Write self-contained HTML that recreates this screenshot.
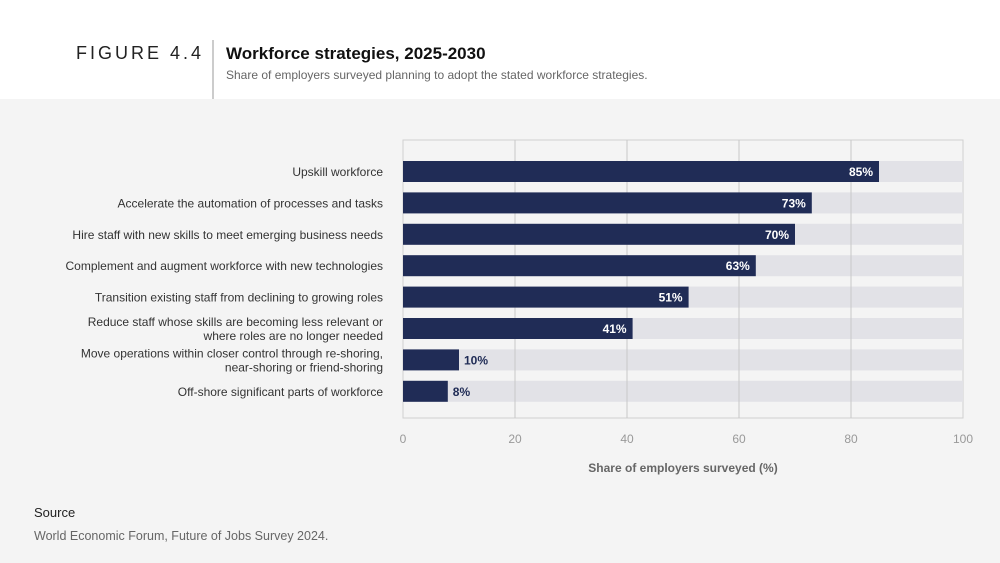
<!DOCTYPE html>
<html><head><meta charset="utf-8"><style>
body{margin:0;width:1000px;height:558px;overflow:hidden;background:#f4f4f4;font-family:"Liberation Sans",sans-serif}
</style></head><body>
<svg width="1000" height="558" xmlns="http://www.w3.org/2000/svg" font-family="Liberation Sans, sans-serif">
<rect x="0" y="0" width="1000" height="99" fill="#ffffff"/>
<text x="76" y="59" font-size="18" letter-spacing="3" fill="#222">FIGURE 4.4</text>
<line x1="213" y1="40" x2="213" y2="99" stroke="#999" stroke-width="1"/>
<text x="226" y="59" font-size="17" font-weight="bold" fill="#111">Workforce strategies, 2025-2030</text>
<text x="226" y="79" font-size="12" fill="#666">Share of employers surveyed planning to adopt the stated workforce strategies.</text>
<g id="chart"></g>
<text x="683" y="472" font-size="12" font-weight="bold" fill="#666" text-anchor="middle">Share of employers surveyed (%)</text>
<text x="34" y="517" font-size="13" fill="#222">Source</text>
<text x="34" y="540" font-size="12.5" fill="#666">World Economic Forum, Future of Jobs Survey 2024.</text>
</svg>
<script>
const categories=[["Upskill workforce"],["Accelerate the automation of processes and tasks"],["Hire staff with new skills to meet emerging business needs"],["Complement and augment workforce with new technologies"],["Transition existing staff from declining to growing roles"],["Reduce staff whose skills are becoming less relevant or","where roles are no longer needed"],["Move operations within closer control through re-shoring,","near-shoring or friend-shoring"],["Off-shore significant parts of workforce"]];
const values=[85,73,70,63,51,41,10,8];
const ticks=[0,20,40,60,80,100];
const NS="http://www.w3.org/2000/svg";
const g=document.getElementById('chart');
const x0=403,x1=963,yTop=140,yBot=418,rowStart=161,rowStep=31.4,bh=21;
const xs=v=>x0+(x1-x0)*v/100;
const rowY=i=>rowStart+i*rowStep;
function mk(t,a){const e=document.createElementNS(NS,t);for(const k in a)e.setAttribute(k,a[k]);g.appendChild(e);return e;}
const frame=mk('rect',{x:x0,y:yTop,width:x1-x0,height:yBot-yTop,fill:'none',stroke:'#d0d0d0'});


values.forEach((v,i)=>{
  const tr=mk('rect',{x:x0,y:rowY(i),width:x1-x0,height:bh,fill:'#e2e2e7'});
  
  
});
ticks.forEach(t=>{
  if(t>0&&t<100){const l=mk('line',{x1:xs(t),x2:xs(t),y1:yTop,y2:yBot,stroke:'#c8c8c8'});
  
  }
  const tx=mk('text',{x:xs(t),y:443,'font-size':12,fill:'#999','text-anchor':'middle'});
  tx.textContent=t;
  
  
});
values.forEach((v,i)=>{
  const y=rowY(i);
  const b=mk('rect',{x:x0,y:y,width:xs(v)-x0,height:bh,fill:'#202c56'});
  
  
  const inside=v>20;
  const lb=mk('text',{x:inside?xs(v)-6:xs(v)+5,y:y+15,'font-size':12,'font-weight':'bold',fill:inside?'#fff':'#202c56','text-anchor':inside?'end':'start'});
  lb.textContent=v+'%';
  
  
  const c=categories[i];
  c.forEach((line,j)=>{
    const ct=mk('text',{x:383,y:y+15-(c.length-1)*7+j*14,'font-size':12,fill:'#333','text-anchor':'end'});
    ct.textContent=line;
    
    
  });
});
</script>
</body></html>
